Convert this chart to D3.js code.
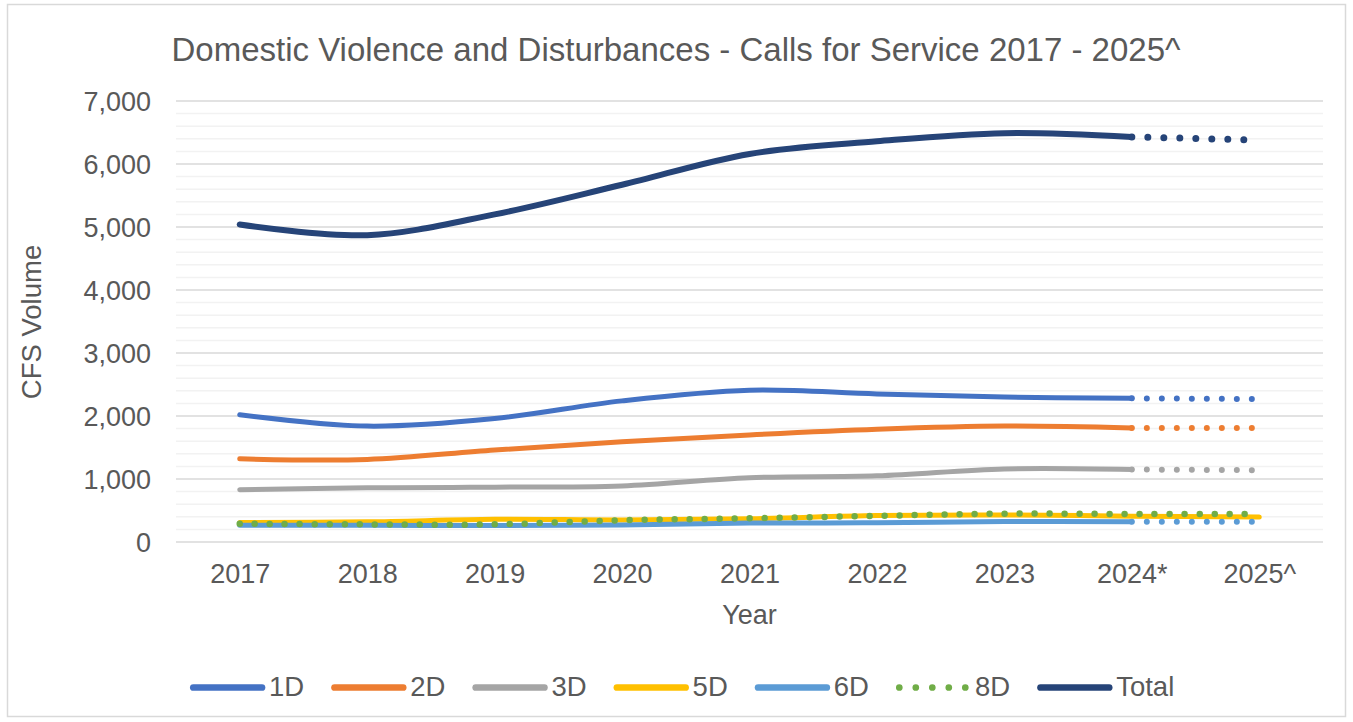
<!DOCTYPE html>
<html>
<head>
<meta charset="utf-8">
<script src="https://cdn.jsdelivr.net/npm/d3@7"></script>
<style>
  html, body { margin: 0; padding: 0; background: #fff; }
  svg { display: block; font-family: "Liberation Sans", Arial, sans-serif; }
</style>
</head>
<body>
<svg id="chart" width="1353" height="722"></svg>
<script>
const categories = ["2017", "2018", "2019", "2020", "2021", "2022", "2023", "2024*", "2025^"];
const s1D    = [2020, 1840, 1960, 2240, 2410, 2350, 2300, 2280, 2270];
const s2D    = [1320, 1310, 1460, 1590, 1700, 1790, 1840, 1810, 1810];
const s3D    = [830, 860, 870, 890, 1020, 1050, 1160, 1150, 1140];
const s5D    = [310, 320, 360, 350, 370, 420, 430, 410, 395];
const s6D    = [265, 265, 260, 270, 300, 305, 325, 320, 320];
const s8D    = [290, 280, 280, 345, 375, 415, 450, 445, 445];
const sTotal = [5040, 4870, 5200, 5670, 6160, 6360, 6490, 6430, 6380];
const yTicks = [0, 1000, 2000, 3000, 4000, 5000, 6000, 7000];
const seriesNames = ["1D", "2D", "3D", "5D", "6D", "8D", "Total"];

const series = [
  {name: "1D", values: s1D, color: "#4472C4", width: 5, mode: "tail"},
  {name: "2D", values: s2D, color: "#ED7D31", width: 5, mode: "tail"},
  {name: "3D", values: s3D, color: "#A5A5A5", width: 5, mode: "tail"},
  {name: "5D", values: s5D, color: "#FFC000", width: 5, mode: "solid"},
  {name: "6D", values: s6D, color: "#5B9BD5", width: 5, mode: "tail"},
  {name: "8D", values: s8D, color: "#70AD47", width: 5, mode: "dots"},
  {name: "Total", values: sTotal, color: "#264478", width: 6, mode: "tail"}
];

const svg = d3.select("#chart");
const textColor = "#595959";
const fontFam = "'Liberation Sans', Arial, sans-serif";

// outer border
svg.append("rect").attr("x", 7.5).attr("y", 4.5).attr("width", 1338).attr("height", 712)
  .attr("fill", "#fff").attr("stroke", "#D9D9D9").attr("stroke-width", 1.5);

const x = d3.scalePoint().domain(categories).range([176, 1323]).padding(0.5);
const y = d3.scaleLinear().domain([0, 7000]).range([542, 101]);

// gridlines
const minor = d3.range(0, 7001, 200).filter(v => v % 1000 !== 0);
svg.append("g").selectAll("line").data(minor).join("line")
  .attr("x1", 176).attr("x2", 1323)
  .attr("y1", d => y(d)).attr("y2", d => y(d))
  .attr("stroke", "#F2F2F2").attr("stroke-width", 1.5);
svg.append("g").selectAll("line").data(yTicks).join("line")
  .attr("x1", 176).attr("x2", 1323)
  .attr("y1", d => y(d)).attr("y2", d => y(d))
  .attr("stroke", "#D9D9D9").attr("stroke-width", 1.5);

// y axis labels
const yAxis = d3.axisLeft(y).tickValues(yTicks).tickFormat(d3.format(",")).tickSize(0).tickPadding(0);
const gy = svg.append("g").attr("transform", "translate(151,0)").call(yAxis);
gy.select(".domain").remove();
gy.selectAll("text").attr("fill", textColor).attr("dy", "0.36em").style("font-size", "27px")
  .style("font-family", fontFam);

// x axis labels
const xAxis = d3.axisBottom(x).tickSize(0).tickPadding(0);
const gx = svg.append("g").attr("transform", "translate(0,564)").call(xAxis);
gx.select(".domain").remove();
gx.selectAll("text").attr("fill", textColor).style("font-size", "27px")
  .style("font-family", fontFam);

// axis titles
svg.append("text").attr("x", 749.5).attr("y", 624).attr("text-anchor", "middle")
  .attr("fill", textColor).style("font-size", "27px").text("Year");
svg.append("text").attr("transform", "translate(41,322) rotate(-90)").attr("text-anchor", "middle")
  .attr("fill", textColor).style("font-size", "27.5px").text("CFS Volume");

// title
svg.append("text").attr("x", 676).attr("y", 61).attr("text-anchor", "middle")
  .attr("fill", textColor).style("font-size", "33px")
  .text("Domestic Violence and Disturbances - Calls for Service 2017 - 2025^");

// lines
const line = d3.line().x(d => x(d.c)).y(d => y(d.v)).curve(d3.curveCatmullRom.alpha(0.5));
const gl = svg.append("g");
series.forEach(s => {
  const pts = s.values.map((v, i) => ({c: categories[i], v}));
  const dotGap = s.name === "Total" ? 16 : 15;
  if (s.mode === "solid") {
    gl.append("path").attr("d", line(pts)).attr("fill", "none").attr("stroke", s.color)
      .attr("stroke-width", s.width).attr("stroke-linecap", "round").attr("stroke-linejoin", "round");
  } else if (s.mode === "dots") {
    gl.append("path").attr("d", line(pts)).attr("fill", "none").attr("stroke", s.color)
      .attr("stroke-width", s.width + 1.5).attr("stroke-linecap", "round")
      .attr("stroke-dasharray", `0 ${dotGap}`);
  } else {
    gl.append("path").attr("d", line(pts.slice(0, 8))).attr("fill", "none").attr("stroke", s.color)
      .attr("stroke-width", s.width).attr("stroke-linecap", "round").attr("stroke-linejoin", "round");
    gl.append("path").attr("d", line(pts.slice(7))).attr("fill", "none").attr("stroke", s.color)
      .attr("stroke-width", s.width + 1).attr("stroke-linecap", "round")
      .attr("stroke-dasharray", `0 ${dotGap}`).attr("stroke-dashoffset", -dotGap);
  }
});

// legend
const lg = svg.append("g");
series.forEach((s, i) => {
  const x0 = 190 + i * 141.2;
  const yL = 687.5;
  const l = lg.append("line").attr("x1", x0 + 3.3).attr("x2", x0 + 72).attr("y1", yL).attr("y2", yL)
    .attr("stroke", s.color).attr("stroke-width", 6.7).attr("stroke-linecap", "round");
  if (s.mode === "dots") {
    l.attr("stroke-dasharray", "0 16.5");
  }
  lg.append("text").attr("x", x0 + 79).attr("y", 695.5).attr("fill", textColor)
    .style("font-size", "27.5px").text(seriesNames[i]);
});
</script>
</body>
</html>
